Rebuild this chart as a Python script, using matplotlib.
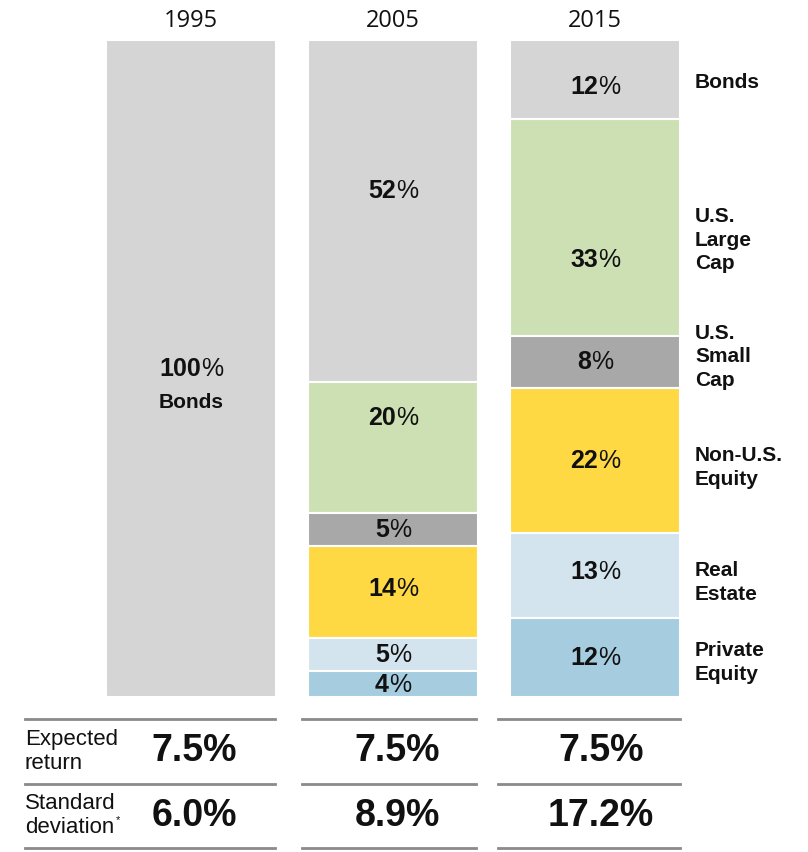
import matplotlib.pyplot as plt
from matplotlib.lines import Line2D

# data
years = ["1995", "2005", "2015"]
assets = ["Bonds", "U.S.\nLarge\nCap", "U.S.\nSmall\nCap", "Non-U.S.\nEquity",
          "Real\nEstate", "Private\nEquity"]
alloc_1995 = [100, 0, 0, 0, 0, 0]
alloc_2005 = [52, 20, 5, 14, 5, 4]
alloc_2015 = [12, 33, 8, 22, 13, 12]
expected_return = ["7.5%", "7.5%", "7.5%"]
std_dev = ["6.0%", "8.9%", "17.2%"]

colors = ["#d5d5d5", "#cde0b3", "#a8a8a8", "#fed944", "#d3e4ee", "#a5cddf"]

# label nudges in pixels (layout only)
pct_nudge = [[0, 0, 0, 0, 0, 0],
             [-20, -29, 1, -3, 1, 1],
             [8, 33, 0, 1, -3, 0]]
asset_nudge = [3, 13, -5, 7, 7, 5]

W, H = 808, 852
PX = 657 / 100  # pixels per percent
BOLD = ["Liberation Sans", "DejaVu Sans"]
REG = ["Open Sans", "DejaVu Sans"]
INK = "#111111"

fig = plt.figure(figsize=(W / 100, H / 100), dpi=100)
fig.patch.set_facecolor("white")

# bar axes: x unit = 202 px, bars centred at 0,1,2
ax = fig.add_axes([90 / W, (H - 697) / H, 606 / W, 657 / H])
ax.set_xlim(-0.5, 2.5)
ax.set_ylim(100, 0)
ax.axis("off")


def pct_label(x, y, v, size=18):
    t = ax.annotate(str(v), xy=(x, y), xytext=(-size * 0.44, 0),
                    textcoords="offset points", ha="center", va="center",
                    fontsize=size, fontweight="bold", family=BOLD, color=INK)
    ax.annotate("%", xy=(1, 0.5), xycoords=t, ha="left", va="center",
                fontsize=size, family=BOLD, color=INK)


allocs = [alloc_1995, alloc_2005, alloc_2015]
bw = 170 / 202
for i, vals in enumerate(allocs):
    bottom = 0
    for j, v in enumerate(vals):
        if v == 0:
            continue
        ax.bar(i, v, bottom=bottom, width=bw, color=colors[j],
               edgecolor="white", linewidth=1.5)
        mid = bottom + v / 2 + pct_nudge[i][j] / PX
        pct_label(i, mid, v)
        if i == 0:
            ax.text(i, mid + 34 / PX, "Bonds", ha="center", va="center",
                    fontsize=15, fontweight="bold", family=BOLD, color=INK)
        bottom += v
    ax.text(i, -19 / PX, years[i], ha="center", va="center", fontsize=17,
            family=REG, color=INK, clip_on=False)

# asset labels on the right, next to 2015 bar
bottom = 0
for j, v in enumerate(alloc_2015):
    mid = bottom + v / 2 + asset_nudge[j] / PX
    ax.text(2.495, mid, assets[j], ha="left", va="center", fontsize=15,
            fontweight="bold", family=BOLD, color=INK,
            linespacing=1.3, clip_on=False)
    bottom += v

# table below
tx = fig.add_axes([90 / W, (H - 848) / H, 606 / W, 129 / H])
tx.set_xlim(-0.5, 2.5)
tx.set_ylim(2, 0)
tx.axis("off")


def px2x(p):
    return (p - 90) / 202 - 0.5


spans = [(25, 275), (302, 476), (498, 680)]
for y in [0, 1, 2]:
    for a, b in spans:
        tx.add_line(Line2D([px2x(a), px2x(b)], [y, y], color="#8a8a8a",
                           linewidth=2, clip_on=False))

tx.text(px2x(25), 0.5, "Expected\nreturn", ha="left", va="center", fontsize=16,
        family=BOLD, color=INK, linespacing=1.2)
t = tx.text(px2x(25), 1.5, "Standard\ndeviation", ha="left", va="center",
            fontsize=16, family=BOLD, color=INK, linespacing=1.2)
tx.annotate("*", xy=(1, 0.3), xycoords=t, ha="left", va="bottom",
            fontsize=8, family=BOLD, color=INK)

val_x = [194, 397, 601]
for i in range(3):
    tx.text(px2x(val_x[i]), 0.5, expected_return[i], ha="center", va="center",
            fontsize=27, fontweight="bold", family=BOLD, color=INK)
    tx.text(px2x(val_x[i]), 1.5, std_dev[i], ha="center", va="center",
            fontsize=27, fontweight="bold", family=BOLD, color=INK)

fig.savefig("out.png", dpi=100, facecolor="white")
